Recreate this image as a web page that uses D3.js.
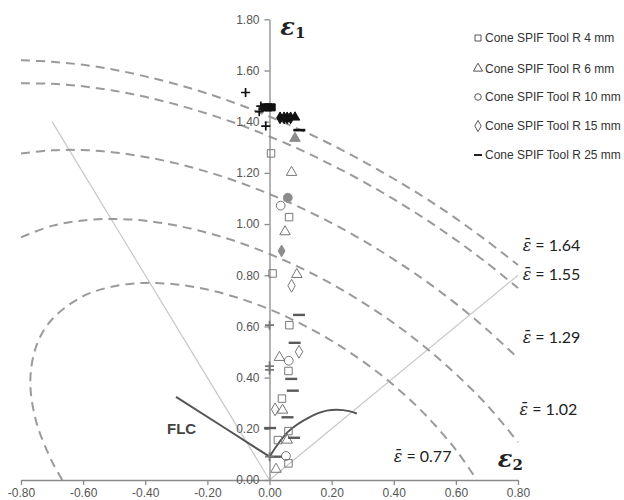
<!DOCTYPE html>
<html><head><meta charset="utf-8">
<script src="https://cdn.jsdelivr.net/npm/d3@7"></script>
<style>body{margin:0;background:#fff}svg{display:block}</style>
</head><body>
<svg id="c" width="624" height="500"></svg>
<script>
// ---------- data ----------
const xTicks = [-0.8,-0.6,-0.4,-0.2,0,0.2,0.4,0.6,0.8];
const yTicks = [0,0.2,0.4,0.6,0.8,1.0,1.2,1.4,1.6,1.8];
const legendNames = ["Cone SPIF Tool R 4 mm","Cone SPIF Tool R 6 mm","Cone SPIF Tool R 10 mm","Cone SPIF Tool R 15 mm","Cone SPIF Tool R 25 mm"];
const legendShapes = ["square","triangle","circle","diamond","dash"];
// series [eps2, eps1]
const toolR4 = [[0.005,1.276],[0.063,1.027],[0.010,0.807],[0.064,0.605],[0.061,0.426],[0.040,0.318],[0.061,0.191],[0.027,0.156],[0.061,0.065]];
const toolR6 = [[0.071,1.202],[0.050,0.970],[0.088,0.803],[0.032,0.479],[0.042,0.273],[0.057,0.156],[0.021,0.042]];
const toolR10 = [[0.036,1.072],[0.062,0.466],[0.053,0.094]];
const toolR15 = [[0.071,0.759],[0.095,0.501],[0.018,0.276]];
const toolR25 = [[0.095,0.645],[0.081,0.536],[0.070,0.395],[0.075,0.349],[0.058,0.245],[0.002,0.203],[0.079,0.165],[0.020,0.091]];
// fracture / extra points
const fracSquare = [[-0.015,1.456],[-0.004,1.456],[0.007,1.456]];
const fracDiamond = [[0.034,1.415],[0.047,1.415],[0.057,1.415],[0.068,1.415]];
const fracTriangle = [[0.082,1.417]];
const fracDash = [[0.096,1.367]];
const grayTriangle = [[0.082,1.335]];
const grayCircle = [[0.059,1.103]];
const grayDiamond = [[0.039,0.895]];
const plusBlack = [[-0.077,1.514],[-0.028,1.461],[-0.033,1.439],[-0.012,1.383]];
const plusGray = [[0,0.605],[0,0.445],[0,0.430],[0,0.091]];
// iso effective strain curves
const iso164 = [[-0.8,1.640],[-0.7,1.634],[-0.6,1.622],[-0.5,1.603],[-0.4,1.577],[-0.3,1.546],[-0.2,1.510],[-0.1,1.468],[0,1.420],[0.1,1.368],[0.2,1.310],[0.3,1.246],[0.4,1.177],[0.5,1.103],[0.6,1.022],[0.7,0.934],[0.8,0.840]];
const iso155 = [[-0.8,1.550],[-0.7,1.548],[-0.6,1.538],[-0.5,1.521],[-0.4,1.497],[-0.3,1.467],[-0.2,1.431],[-0.1,1.390],[0,1.342],[0.1,1.290],[0.2,1.231],[0.3,1.167],[0.4,1.097],[0.5,1.021],[0.6,0.938],[0.7,0.848],[0.8,0.750]];
const iso129 = [[-0.8,1.276],[-0.7,1.288],[-0.6,1.289],[-0.5,1.280],[-0.4,1.262],[-0.3,1.237],[-0.2,1.204],[-0.1,1.164],[0,1.117],[0.1,1.064],[0.2,1.004],[0.3,0.937],[0.4,0.862],[0.5,0.780],[0.6,0.689],[0.7,0.588],[0.8,0.476]];
const iso102 = [[-0.8,0.948],[-0.7,0.993],[-0.6,1.014],[-0.5,1.020],[-0.4,1.013],[-0.3,0.994],[-0.2,0.966],[-0.1,0.929],[0,0.883],[0.1,0.829],[0.2,0.766],[0.3,0.694],[0.4,0.613],[0.5,0.520],[0.6,0.414],[0.7,0.293],[0.8,0.148]];
const iso077 = [[-0.667,0.0],[-0.70,0.072],[-0.75,0.224],[-0.77,0.385],[-0.75,0.526],[-0.70,0.628],[-0.6,0.718],[-0.5,0.757],[-0.4,0.770],[-0.3,0.764],[-0.2,0.744],[-0.1,0.711],[0,0.667],[0.1,0.611],[0.2,0.544],[0.3,0.464],[0.4,0.370],[0.5,0.257],[0.6,0.118],[0.667,0.0]];
const isoLabels = ["1.64","1.55","1.29","1.02","0.77"];
const isoLabelPos = [[0.815,0.895],[0.815,0.782],[0.815,0.535],[0.805,0.255],[0.40,0.07]];
const pathUniaxial = [[-0.70,1.40],[0,0]];
const pathBiaxial = [[0,0],[0.80,0.80]];
const flcLeft = [[-0.301,0.325],[-0.15,0.208],[0,0.091]];
const flcRight = [[0,0.091],[0.060,0.189],[0.131,0.247],[0.184,0.271],[0.238,0.273],[0.281,0.260]];

// ---------- drawing ----------
const svg = d3.select("#c");
const x = d3.scaleLinear().domain([-0.8,0.8]).range([21,518]);
const y = d3.scaleLinear().domain([0,1.8]).range([480,19.3]);
const line = d3.line().x(d=>x(d[0])).y(d=>y(d[1]));
const smooth = d3.line().x(d=>x(d[0])).y(d=>y(d[1])).curve(d3.curveCatmullRom);

[pathUniaxial,pathBiaxial].forEach(p=>svg.append("path").attr("d",line(p)).attr("fill","none").attr("stroke","#c8c8c8").attr("stroke-width",1.2));

[iso164,iso155,iso129,iso102,iso077].forEach(c=>svg.append("path").attr("d",smooth(c)).attr("fill","none")
  .attr("stroke","#9a9a9a").attr("stroke-width",2).attr("stroke-dasharray","9,6"));

const ax = svg.append("g").attr("transform",`translate(0,${y(0)})`)
  .call(d3.axisBottom(x).tickValues(xTicks).tickSize(5).tickSizeOuter(0).tickPadding(3).tickFormat(d=>d.toFixed(2)));
const ay = svg.append("g").attr("transform",`translate(${x(0)},0)`)
  .call(d3.axisLeft(y).tickValues(yTicks).tickSize(5).tickSizeOuter(0).tickPadding(5).tickFormat(d=>d.toFixed(2)));
[ax,ay].forEach(g=>{
  g.selectAll("path,line").attr("stroke","#8a8a8a").attr("stroke-width",1.3);
  g.selectAll("text").attr("fill","#555").style("font-family","Liberation Sans, Arial, sans-serif").style("font-size","12px");
});

svg.append("path").attr("d",line(flcLeft)).attr("fill","none").attr("stroke","#555").attr("stroke-width",2);
svg.append("path").attr("d",smooth(flcRight)).attr("fill","none").attr("stroke","#555").attr("stroke-width",2);
svg.append("text").attr("x",x(-0.33)).attr("y",y(0.2)+5).text("FLC")
  .style("font-family","Liberation Sans, Arial, sans-serif").style("font-weight","bold").style("font-size","15px").attr("fill","#444");

function drawMarker(g, shape, cx, cy, opts){
  const o = Object.assign({fill:"#fff",stroke:"#777",sw:1},opts||{});
  if(shape==="dash"){
    g.append("line").attr("x1",cx-(o.len||6)).attr("x2",cx+(o.len||6)).attr("y1",cy).attr("y2",cy)
      .attr("stroke",o.stroke).attr("stroke-width",o.dw||2.4);
  } else if(shape==="plus"){
    g.append("path").attr("d",`M${cx-4.5},${cy}H${cx+4.5}M${cx},${cy-4.5}V${cy+4.5}`).attr("stroke",o.stroke).attr("stroke-width",1.7);
  } else {
    const types = {square:d3.symbolSquare,triangle:d3.symbolTriangle,circle:d3.symbolCircle,diamond:d3.symbolDiamond};
    const sizes = {square:o.size||56,triangle:o.size||48,circle:o.size||60,diamond:o.size||48};
    g.append("path").attr("d",d3.symbol().type(types[shape]).size(sizes[shape])())
      .attr("transform",`translate(${cx},${cy})`).attr("fill",o.fill).attr("stroke",o.stroke).attr("stroke-width",o.sw);
  }
}
const gm = svg.append("g");
[[toolR4,"square"],[toolR6,"triangle"],[toolR10,"circle"],[toolR15,"diamond"]].forEach(([s,sh])=>
  s.forEach(d=>drawMarker(gm,sh,x(d[0]),y(d[1]),{fill:"none"})));
toolR25.forEach(d=>drawMarker(gm,"dash",x(d[0]),y(d[1]),{stroke:"#5a5a5a"}));
fracSquare.forEach(d=>drawMarker(gm,"square",x(d[0]),y(d[1]),{fill:"#111",stroke:"#111",size:50}));
fracDiamond.forEach(d=>drawMarker(gm,"diamond",x(d[0]),y(d[1]),{fill:"#111",stroke:"#111",size:40}));
fracTriangle.forEach(d=>drawMarker(gm,"triangle",x(d[0]),y(d[1]),{fill:"#111",stroke:"#111",size:40}));
fracDash.forEach(d=>drawMarker(gm,"dash",x(d[0]),y(d[1]),{stroke:"#111",dw:2.6}));
grayTriangle.forEach(d=>drawMarker(gm,"triangle",x(d[0]),y(d[1]),{fill:"#8c8c8c",stroke:"#8c8c8c"}));
grayCircle.forEach(d=>drawMarker(gm,"circle",x(d[0]),y(d[1]),{fill:"#8c8c8c",stroke:"#8c8c8c"}));
grayDiamond.forEach(d=>drawMarker(gm,"diamond",x(d[0]),y(d[1]),{fill:"#8c8c8c",stroke:"#8c8c8c",size:40}));
plusBlack.forEach(d=>drawMarker(gm,"plus",x(d[0]),y(d[1]),{stroke:"#111"}));
plusGray.forEach(d=>drawMarker(gm,"plus",x(d[0]),y(d[1]),{stroke:"#777"}));

isoLabels.forEach((t,i)=>{
  const tx = svg.append("text").attr("x",x(isoLabelPos[i][0])).attr("y",y(isoLabelPos[i][1]))
    .style("font-size","16px").attr("fill","#222");
  tx.append("tspan").text("ε\u0304").style("font-family","DejaVu Serif, serif").style("font-style","italic");
  tx.append("tspan").text(" = "+t).style("font-family","Lato, Liberation Sans, sans-serif");
});

function epsLabel(px,py,sub){
  const t = svg.append("text").attr("x",px).attr("y",py).attr("fill","#222")
    .style("font-family","DejaVu Serif, serif").style("font-weight","bold");
  t.append("tspan").text("ε").style("font-size","24px").style("font-style","italic");
  t.append("tspan").text(sub).style("font-size","15px").attr("dy",3);
}
epsLabel(x(0.035),y(1.74),"1");
epsLabel(x(0.735),y(0.05),"2");

const lg = svg.append("g");
const rowY = [38,68.5,97,126,155];
legendNames.forEach((n,i)=>{
  drawMarker(lg,legendShapes[i],478,rowY[i],legendShapes[i]==="dash"?{stroke:"#222",len:4,dw:2}:{fill:"none",stroke:"#555",size:legendShapes[i]==="circle"?34:36});
  lg.append("text").attr("x",485).attr("y",rowY[i]).attr("dy","0.35em").text(n)
    .style("font-family","Liberation Sans, Arial, sans-serif").style("font-size","12px").attr("fill","#333");
});
</script>
</body></html>
